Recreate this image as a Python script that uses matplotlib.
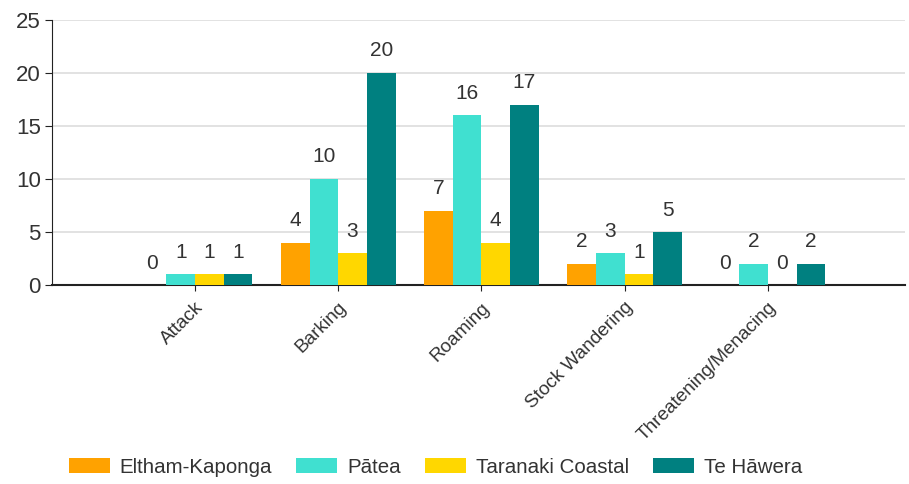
import matplotlib
matplotlib.use("Agg")
import matplotlib.pyplot as plt
import numpy as np

categories = ["Attack", "Barking", "Roaming", "Stock Wandering", "Threatening/Menacing"]
series_names = ["Eltham-Kaponga", "Pātea", "Taranaki Coastal", "Te Hāwera"]
eltham = [0, 4, 7, 2, 0]
patea = [1, 10, 16, 3, 2]
taranaki = [1, 3, 4, 1, 0]
tehawera = [1, 20, 17, 5, 2]
colors = ["#FFA200", "#40E0D0", "#FFD700", "#008080"]
yticks = [0, 5, 10, 15, 20, 25]

plt.rcParams['font.family'] = ['Liberation Sans', 'DejaVu Sans']
text_color = "#333333"

fig = plt.figure(figsize=(9.09, 4.84), dpi=100)
ax = fig.add_axes([0.057, 0.411, 0.939, 0.548])

x = np.arange(len(categories))
w = 0.2
all_series = [eltham, patea, taranaki, tehawera]
for i, (vals, name, c) in enumerate(zip(all_series, series_names, colors)):
    pos = x + (i - 1.5) * w
    ax.bar(pos, vals, width=w, color=c, label=name, zorder=3)
    for xp, v in zip(pos, vals):
        ax.annotate(str(v), (xp, v), xytext=(0, 9), textcoords="offset points",
                    ha="center", va="bottom", fontsize=15, color=text_color)

ax.set_xlim(-1.0, 4.96)
ax.set_ylim(0, 25)
ax.set_yticks(yticks)
ax.set_yticklabels([str(t) for t in yticks], fontsize=16, color=text_color)
ax.set_xticks(x)
ax.set_xticklabels(categories, rotation=45, ha="right", rotation_mode="anchor",
                   fontsize=13.7, color=text_color)
ax.grid(axis="y", color="#dddddd", linewidth=1.2, zorder=0)
ax.spines["top"].set_visible(False)
ax.spines["right"].set_visible(False)
ax.spines["left"].set_color("#222222")
ax.spines["bottom"].set_color("#222222")
ax.spines["bottom"].set_linewidth(1.5)
ax.tick_params(axis="y", length=5, color="#222222", pad=3)
ax.tick_params(axis="x", length=4, color="#222222", pad=6)

handles, labels = ax.get_legend_handles_labels()
fig.legend(handles, labels, loc="center left", bbox_to_anchor=(0.0598, 0.035), ncol=4,
           frameon=False, fontsize=14.8, handlelength=2.0, handleheight=0.78,
           columnspacing=1.17, handletextpad=0.48, labelcolor=text_color,
           borderpad=0.2)

fig.savefig("out.png", dpi=100, facecolor="white")
